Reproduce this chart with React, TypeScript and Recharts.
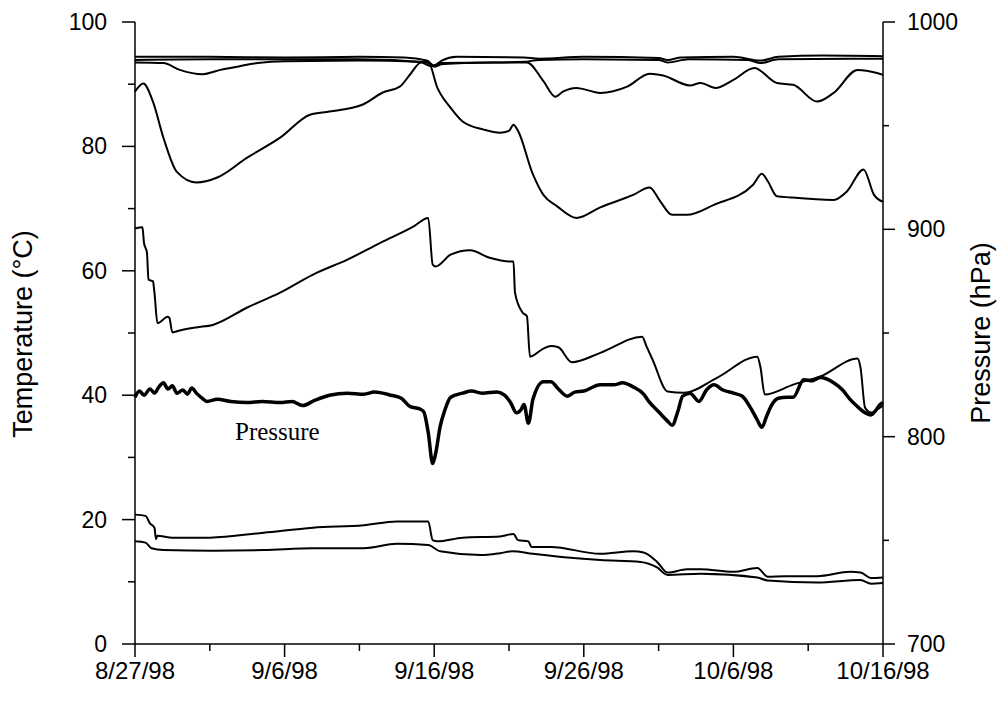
import { Line, LineChart, XAxis, YAxis } from "recharts"

type Pt = [number, number]

// x = days since 8/27/98
const xTicks = [0, 5, 10, 15, 20, 25, 30, 35, 40, 45, 50]
const xTickLabels = ["8/27/98", "", "9/6/98", "", "9/16/98", "", "9/26/98", "", "10/6/98", "", "10/16/98"]
const tempTicks = [0, 10, 20, 30, 40, 50, 60, 70, 80, 90, 100]
const tempTickLabels = ["0", "", "20", "", "40", "", "60", "", "80", "", "100"]
const pressureTicks = [700, 750, 800, 850, 900, 950, 1000]
const pressureTickLabels = ["700", "", "800", "", "900", "", "1000"]

// temperatures (°C)
const topUpper: Pt[] = [
  [0, 94.4], [5, 94.4], [10, 94.3], [15, 94.4], [18, 94.3], [19.5, 93.8], [20, 93], [20.5, 93.8],
  [21.5, 94.4], [26, 94.3], [27, 94.1], [30, 94.4], [35, 94.2], [35.6, 93.9], [36.5, 94.3], [40, 94.4],
  [41.8, 93.8], [43, 94.4], [46, 94.6], [50, 94.5],
]
const topLower: Pt[] = [
  [0, 93.9], [5, 94], [10, 94], [15, 94], [19.5, 93.5], [20, 92.8], [20.5, 93.2], [22, 93.4], [26, 93.6],
  [27, 93.9], [30, 94], [35, 93.9], [35.6, 93.5], [37, 94], [41, 93.9], [41.8, 93.4], [43, 94], [50, 94.1],
]
const lineA: Pt[] = [
  [0, 93.5], [1.9, 93.4], [3, 92.3], [4.5, 91.6], [5.7, 92.3], [7, 92.9], [8.2, 93.4], [10, 93.7],
  [15, 93.8], [19, 93.6], [19.8, 92.9], [20.5, 93.4], [24, 93.5], [26.2, 93.5], [27.3, 90.5], [28.1, 88],
  [28.6, 88.8], [29.5, 89.4], [31.1, 88.6], [32.9, 89.6], [34.4, 91.7], [35.3, 91.4], [37.1, 89.8],
  [37.8, 90.2], [38.8, 89.4], [40, 90.7], [41.4, 92.6], [42.9, 90.2], [44, 89.9], [45.6, 87.2],
  [46.7, 88.6], [48.3, 92.3], [49.6, 91.8], [50, 91.5],
]
const lineB: Pt[] = [
  [0, 88.8], [0.55, 90.1], [1.2, 87.2], [1.9, 81.4], [2.8, 75.9], [4.1, 74.2], [5.5, 75], [7.5, 78.2],
  [9.7, 81.4], [11.7, 85.1], [13, 85.6], [15.2, 86.7], [16.6, 88.7], [17.7, 89.6], [18.4, 91.6],
  [19.1, 93.5], [19.6, 93.6], [20.2, 89.5], [21.1, 86.2], [21.9, 84], [23.3, 82.7], [24.4, 82.2],
  [25, 82.5], [25.3, 83.5], [25.6, 82.5], [26.6, 75.5], [27.3, 72.2], [28.2, 70.4], [29.5, 68.5],
  [31.1, 70.2], [33.3, 72.2], [34.4, 73.4], [35.1, 71.2], [35.9, 69], [36.9, 69], [38.7, 70.6],
  [41.3, 73.8], [41.9, 75.6], [42.3, 74.4], [42.9, 72], [43.8, 71.8], [46.7, 71.4], [47.6, 72.8],
  [48.7, 76.3], [49.4, 72.2], [50, 71.1],
]
const lineC: Pt[] = [
  [0, 66.8], [0.5, 67], [0.6, 64.5], [0.8, 62.9], [0.9, 58.6], [1.2, 58.3], [1.3, 56.5], [1.5, 51.6],
  [2.2, 52.6], [2.3, 52.4], [2.5, 50.1], [3, 50.4], [4.1, 50.9], [5.2, 51.3], [7.5, 54.1], [9.7, 56.5],
  [11.9, 59.4], [14.2, 61.8], [16.4, 64.5], [18.6, 67.1], [19.6, 68.5], [19.9, 61], [20.1, 60.7],
  [21.1, 62.6], [22.4, 63.3], [23.7, 62.1], [25.1, 61.5], [25.3, 61.5], [25.4, 56.5], [25.9, 53.3],
  [26.2, 52.7], [26.4, 46.2], [27.3, 47.5], [27.8, 47.9], [28.3, 47.7], [29.2, 45.3], [31.1, 46.8],
  [33.9, 49.4], [34.2, 47.8], [34.6, 45.7], [35.6, 40.6], [36.7, 40.4], [38.9, 42.8], [41.6, 46.2],
  [41.8, 44.6], [42.1, 40.1], [44, 41.7], [45.8, 43], [48.3, 45.9], [48.5, 44.4], [48.8, 38],
  [49.2, 37.2], [49.8, 38], [50, 38.3],
]
const lineD: Pt[] = [
  [0, 20.8], [0.7, 20.6], [1, 19.4], [1.3, 18.7], [1.4, 16.9], [1.5, 17.4], [2.5, 17.1], [5, 17.1],
  [8.6, 17.9], [11.9, 18.7], [15.3, 19.1], [17.5, 19.7], [19.6, 19.7], [19.9, 16.7], [20.2, 16.5],
  [21.9, 17.1], [24.4, 17.3], [25.3, 17.7], [25.6, 16.7], [26.3, 16.5], [26.5, 15.6], [27.8, 15.6],
  [31.1, 14.5], [33.3, 14.9], [34, 14.7], [34.9, 13.2], [35.6, 11.5], [36.9, 12], [37.8, 12], [40, 11.6],
  [41.6, 12.2], [42.3, 10.8], [43.4, 10.9], [45.6, 10.9], [47.8, 11.6], [48.5, 11.5], [49.2, 10.6],
  [50, 10.7],
]
const lineE: Pt[] = [
  [0, 16.5], [0.7, 16.3], [1.1, 15.4], [1.9, 15.1], [5.2, 15], [8.6, 15.1], [11.9, 15.4], [15.3, 15.4],
  [17.5, 16.1], [19.6, 15.9], [20.4, 14.9], [23.1, 14.3], [24.4, 14.6], [25.2, 14.9], [26.6, 14.5],
  [28.9, 13.9], [31.1, 13.5], [33.8, 13.2], [34.9, 12.3], [35.6, 11.1], [37.8, 11.3], [41.6, 10.7],
  [42.3, 10.2], [45.6, 9.9], [48.5, 10.3], [49.2, 9.7], [50, 9.8],
]

// pressure (hPa)
const pressure: Pt[] = [
  [0, 819], [0.3, 822], [0.6, 820], [1, 823], [1.3, 821], [1.6, 824], [1.9, 826], [2.2, 823],
  [2.5, 824.5], [2.8, 821], [3.2, 822.5], [3.5, 820.5], [3.8, 823.5], [4.1, 821], [4.5, 818.5],
  [4.8, 817], [5.5, 818], [6.4, 817], [7.5, 816.5], [8.5, 817], [9.7, 816.5], [10.5, 817], [11.2, 815],
  [12, 817.5], [13, 820], [14.2, 821], [15.3, 820.5], [16, 821.5], [17.1, 820], [17.8, 818.5],
  [18.4, 814.5], [19, 813.5], [19.3, 812], [19.6, 802], [19.9, 787], [20.1, 792], [20.4, 805],
  [20.7, 812.5], [21.1, 819], [21.9, 821], [22.5, 822], [23.2, 821], [24.2, 821.5], [24.7, 820],
  [25.1, 816.5], [25.5, 811.5], [25.8, 813], [26, 815.5], [26.3, 806.5], [26.6, 818], [27.3, 826.5],
  [27.8, 826.5], [28.3, 823], [28.9, 819.5], [29.4, 821.5], [30, 822], [31.1, 825], [32, 825],
  [32.6, 826], [33.3, 824], [34, 820.5], [34.4, 816.5], [35, 812], [35.6, 807.5], [35.9, 805.5],
  [36.3, 812.5], [36.6, 819.5], [37.1, 821], [37.7, 817], [38.2, 822.5], [38.7, 825], [39.3, 822.5],
  [40, 821], [40.6, 819.5], [41.1, 814.5], [41.6, 808], [41.9, 804.5], [42.2, 809.5], [42.5, 814.5],
  [43, 818.5], [43.6, 819], [44, 819], [44.7, 827.5], [45.3, 827], [45.8, 828.5], [46.7, 826],
  [47.3, 822.5], [47.8, 818], [48.3, 814.5], [48.7, 812], [49.2, 810.5], [49.5, 812.5], [49.8, 815.5],
  [50, 816.5],
]

const tempLines = [topUpper, topLower, lineA, lineB, lineC, lineD, lineE]

const rows = (s: Pt[]) => s.map(([d, v]) => ({ d, v }))

const font = "'Liberation Sans', Arial, sans-serif"

function XTick({ x, y, payload }: any) {
  const label = xTickLabels[xTicks.indexOf(payload.value)]
  return (
    <g>
      <line x1={x} x2={x} y1={y} y2={y + (label ? 13 : 7)} stroke="#000" strokeWidth={1.5} />
      {label && (
        <text x={x} y={y + 35} textAnchor="middle" fontSize={24} fontFamily={font} fill="#000">
          {label}
        </text>
      )}
    </g>
  )
}

function LeftTick({ x, y, payload }: any) {
  const label = tempTickLabels[tempTicks.indexOf(payload.value)]
  return (
    <g>
      <line x1={x} x2={x - (label ? 13 : 7)} y1={y} y2={y} stroke="#000" strokeWidth={1.5} />
      {label && (
        <text x={x - 28} y={y + 8} textAnchor="end" fontSize={23} fontFamily={font} fill="#000">
          {label}
        </text>
      )}
    </g>
  )
}

function RightTick({ x, y, payload }: any) {
  const label = pressureTickLabels[pressureTicks.indexOf(payload.value)]
  return (
    <g>
      <line x1={x} x2={x + (label ? 12 : 6)} y1={y} y2={y} stroke="#000" strokeWidth={1.5} />
      {label && (
        <text x={x + 24} y={y + 8} textAnchor="start" fontSize={23} fontFamily={font} fill="#000">
          {label}
        </text>
      )}
    </g>
  )
}

export default function App() {
  return (
    <div style={{ position: "absolute", left: 0, top: 0, background: "#fff" }}>
      <LineChart width={1003} height={701} margin={{ top: 22, right: 0, bottom: 0, left: 0 }}>
        <XAxis
          dataKey="d"
          type="number"
          domain={[0, 50]}
          ticks={xTicks}
          interval={0}
          height={57}
          tickSize={0}
          tickMargin={0}
          tickLine={false}
          axisLine={{ stroke: "#000", strokeWidth: 1.5 }}
          tick={(p: any) => <XTick {...p} />}
        />
        <YAxis
          yAxisId="t"
          type="number"
          domain={[0, 100]}
          ticks={tempTicks}
          interval={0}
          width={135}
          tickSize={0}
          tickMargin={0}
          tickLine={false}
          axisLine={{ stroke: "#000", strokeWidth: 1.5 }}
          tick={(p: any) => <LeftTick {...p} />}
        />
        <YAxis
          yAxisId="p"
          orientation="right"
          type="number"
          domain={[700, 1000]}
          ticks={pressureTicks}
          interval={0}
          width={120}
          tickSize={0}
          tickMargin={0}
          tickLine={false}
          axisLine={{ stroke: "#000", strokeWidth: 1.5 }}
          tick={(p: any) => <RightTick {...p} />}
        />
        {tempLines.map((s, i) => (
          <Line
            key={i}
            data={rows(s)}
            dataKey="v"
            yAxisId="t"
            type="monotone"
            stroke="#000"
            strokeWidth={2}
            dot={false}
            activeDot={false}
            isAnimationActive={false}
          />
        ))}
        <Line
          data={rows(pressure)}
          dataKey="v"
          yAxisId="p"
          type="monotone"
          stroke="#000"
          strokeWidth={3.5}
          dot={false}
          activeDot={false}
          isAnimationActive={false}
        />
        <text x={235} y={440} fontSize={25} fontFamily="'Liberation Serif', 'Times New Roman', serif" fill="#000">
          Pressure
        </text>
        <text
          x={32}
          y={334}
          transform="rotate(-90, 32, 334)"
          textAnchor="middle"
          fontSize={27}
          fontFamily={font}
          fill="#000"
        >
          Temperature (°C)
        </text>
        <text
          x={990}
          y={333}
          transform="rotate(-90, 990, 333)"
          textAnchor="middle"
          fontSize={27}
          fontFamily={font}
          fill="#000"
        >
          Pressure (hPa)
        </text>
      </LineChart>
    </div>
  )
}
